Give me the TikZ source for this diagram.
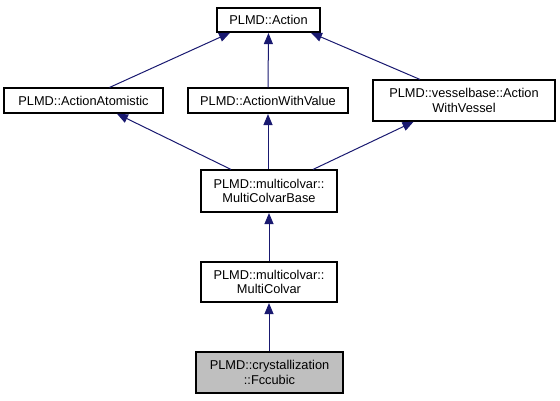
\documentclass[tikz,border=0pt]{standalone}
\usepackage{fontspec}
\setmainfont{Liberation Sans}
\usetikzlibrary{calc,arrows.meta}
\definecolor{edgeblue}{RGB}{25,25,112}
\definecolor{hilite}{RGB}{191,191,191}
\tikzset{
  cls/.style={draw=black, line width=1.1pt, rectangle, inner sep=0pt, align=center,
    font=\fontsize{12.8}{14.5}\selectfont},
  edge/.style={draw=edgeblue, line width=1pt, {Triangle[length=11pt,width=9pt]}-, shorten <=0.5pt}
}
\begin{document}
\begin{tikzpicture}[x=1pt,y=-1pt]
\useasboundingbox (0,0) rectangle (560,400);
\node[cls, minimum width=103pt, minimum height=24pt] (act) at (268.5,20) {PLMD::Action};
\node[cls, minimum width=159pt, minimum height=25pt] (aa) at (83.5,100.5) {PLMD::ActionAtomistic};
\node[cls, minimum width=160pt, minimum height=25pt] (awv) at (268,100.5) {PLMD::ActionWithValue};
\node[cls, minimum width=182pt, minimum height=41pt] (awves) at (464,100.5) {PLMD::vesselbase::Action\\WithVessel};
\node[cls, minimum width=136pt, minimum height=42pt] (mcb) at (269,191) {PLMD::multicolvar::\\MultiColvarBase};
\node[cls, minimum width=136pt, minimum height=40pt] (mc) at (269,282) {PLMD::multicolvar::\\MultiColvar};
\node[cls, fill=hilite, minimum width=147pt, minimum height=41pt] (fcc) at (269.5,372.5) {PLMD::crystallization\\::Fccubic};
\draw[edge] ($(act.south)+(-38,0)$) -- ($(aa.north)+(26,0)$);
\draw[edge] (act.south) -- (awv.north);
\draw[edge] ($(act.south)+(42,0)$) -- ($(awves.north)+(-44,0)$);
\draw[edge] ($(aa.south)+(33,0)$) -- ($(mcb.north)+(-38,0)$);
\draw[edge] (awv.south) -- (mcb.north -| awv.south);
\draw[edge] ($(awves.south)+(-50,0)$) -- ($(mcb.north)+(44,0)$);
\draw[edge] (mcb.south) -- (mc.north);
\draw[edge] (mc.south) -- (fcc.north -| mc.south);
\end{tikzpicture}
\end{document}
